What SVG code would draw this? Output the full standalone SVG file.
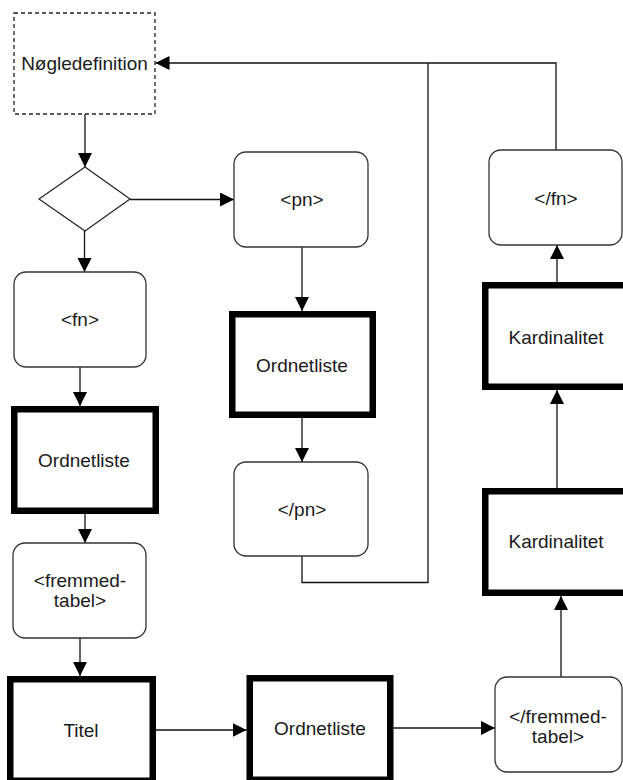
<svg xmlns="http://www.w3.org/2000/svg" width="623" height="780" viewBox="0 0 623 780">
  <style>
    .lbl { font-family: "Liberation Sans", Arial, sans-serif; font-size: 19px; fill: #1a1a1a; text-anchor: middle; }
    .tag { fill: #fff; stroke: #333; stroke-width: 1.3; }
    .thick { fill: #fff; stroke: #000; stroke-width: 6.5; }
    .key { fill: #fff; stroke: #222; stroke-width: 1.3; stroke-dasharray: 4 3; }
    .dec { fill: #fff; stroke: #222; stroke-width: 1.2; }
    .wire { fill: none; stroke: #111; stroke-width: 1.3; }
  </style>
  <defs>
    <marker id="arrow" markerUnits="userSpaceOnUse" markerWidth="14" markerHeight="14" refX="14" refY="7" orient="auto">
      <path d="M0,0 L14,7 L0,14 z" fill="#000"/>
    </marker>
  </defs>
  <rect width="623" height="780" fill="#fff"/>

  <!-- connectors -->
  <g id="connectors" class="wire">
    <path d="M85,114 V167" marker-end="url(#arrow)"/>
    <path d="M130,199.5 H234" marker-end="url(#arrow)"/>
    <path d="M84.5,231 V272" marker-end="url(#arrow)"/>
    <path d="M80,367 V406" marker-end="url(#arrow)"/>
    <path d="M85,514 V543" marker-end="url(#arrow)"/>
    <path d="M80,638 V676" marker-end="url(#arrow)"/>
    <path d="M156,730 H246.5" marker-end="url(#arrow)"/>
    <path d="M393.5,728 H495" marker-end="url(#arrow)"/>
    <path d="M561,677 V596" marker-end="url(#arrow)"/>
    <path d="M557,488 V390" marker-end="url(#arrow)"/>
    <path d="M557,282 V245" marker-end="url(#arrow)"/>
    <path d="M556,150 V63 H155.5" marker-end="url(#arrow)"/>
    <path d="M302,247 V311" marker-end="url(#arrow)"/>
    <path d="M302,418 V462" marker-end="url(#arrow)"/>
    <path d="M302,556 V582.5 H428 V63"/>
  </g>

  <g id="noegledefinition">
    <rect class="key" x="14" y="13" width="141" height="101"/>
    <text class="lbl" x="84.5" y="70">Nøgledefinition</text>
  </g>

  <g id="valg">
    <polygon class="dec" points="39,199 85,167 130,199 85,231"/>
  </g>

  <g id="pn-start">
    <rect class="tag" x="234" y="152" width="134" height="95" rx="12"/>
    <text class="lbl" x="302" y="206">&lt;pn&gt;</text>
  </g>

  <g id="ordnetliste-pn">
    <rect class="thick" x="232.25" y="314.25" width="140.5" height="100.5"/>
    <text class="lbl" x="302" y="372">Ordnetliste</text>
  </g>

  <g id="pn-slut">
    <rect class="tag" x="234" y="462" width="134" height="94" rx="12"/>
    <text class="lbl" x="302" y="516">&lt;/pn&gt;</text>
  </g>

  <g id="fn-start">
    <rect class="tag" x="14" y="272" width="132" height="95" rx="12"/>
    <text class="lbl" x="80" y="326">&lt;fn&gt;</text>
  </g>

  <g id="ordnetliste-fn">
    <rect class="thick" x="14.25" y="409.25" width="141.5" height="101.5"/>
    <text class="lbl" x="84" y="467">Ordnetliste</text>
  </g>

  <g id="fremmedtabel-start">
    <rect class="tag" x="13" y="543" width="133" height="95" rx="12"/>
    <text class="lbl" x="80" y="587">&lt;fremmed-</text>
    <text class="lbl" x="80" y="607">tabel&gt;</text>
  </g>

  <g id="titel">
    <rect class="thick" x="10.25" y="679.25" width="142.5" height="101.5"/>
    <text class="lbl" x="81" y="737">Titel</text>
  </g>

  <g id="ordnetliste-titel">
    <rect class="thick" x="249.75" y="678.25" width="140.5" height="101.5"/>
    <text class="lbl" x="320" y="735">Ordnetliste</text>
  </g>

  <g id="fremmedtabel-slut">
    <rect class="tag" x="495" y="677" width="127" height="95" rx="12"/>
    <text class="lbl" x="558" y="723">&lt;/fremmed-</text>
    <text class="lbl" x="558" y="743">tabel&gt;</text>
  </g>

  <g id="kardinalitet-2">
    <rect class="thick" x="485.25" y="491.25" width="141.5" height="101.5"/>
    <text class="lbl" x="556" y="548">Kardinalitet</text>
  </g>

  <g id="kardinalitet-1">
    <rect class="thick" x="485.25" y="285.25" width="141.5" height="101.5"/>
    <text class="lbl" x="556" y="344">Kardinalitet</text>
  </g>

  <g id="fn-slut">
    <rect class="tag" x="489" y="150" width="133" height="95" rx="12"/>
    <text class="lbl" x="556" y="205">&lt;/fn&gt;</text>
  </g>
</svg>
